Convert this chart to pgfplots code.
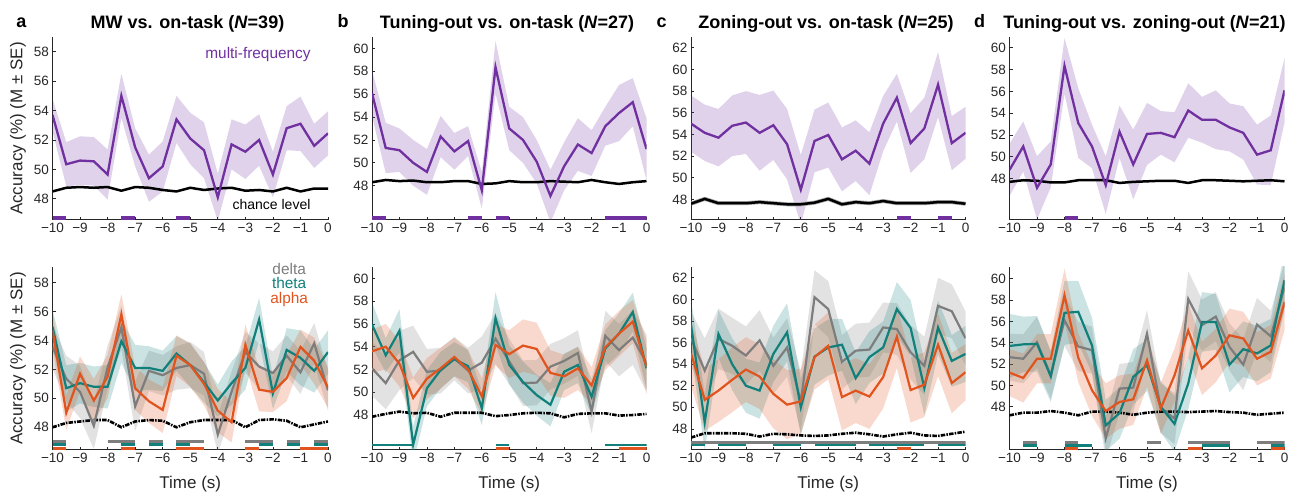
\documentclass[border=0pt]{standalone}
\usepackage{fontspec}
\setmainfont{Liberation Sans}
\usepackage{pgfplots}
\usepackage{pgfplotstable}
\usepgfplotslibrary{fillbetween}
\pgfplotsset{compat=1.18}

\definecolor{mwp}{RGB}{112,48,160}
\definecolor{tl}{RGB}{17,128,123}
\definecolor{orn}{RGB}{226,84,30}
\definecolor{gr}{RGB}{125,125,125}
\definecolor{axc}{RGB}{38,38,38}

% top row: t, mean, se, chance
\pgfplotstableread{
t m s c
-10 53.7 1.1 48.5
-9.5 50.35 1.5 48.75
-9 50.6 1.65 48.8
-8.5 50.55 1.65 48.75
-8 49.65 1.7 48.8
-7.5 55.0 1.5 48.55
-7 51.5 1.3 48.8
-6.5 49.4 1.6 48.75
-6 50.2 1.7 48.6
-5.5 53.4 1.6 48.5
-5 52.1 1.75 48.75
-4.5 51.3 1.9 48.6
-4 48.1 1.6 48.7
-3.5 51.7 1.7 48.75
-3 51.2 1.85 48.55
-2.5 52.0 1.75 48.6
-2 49.65 1.55 48.5
-1.5 52.8 1.5 48.75
-1 53.1 1.85 48.5
-0.5 51.6 1.5 48.7
0 52.45 1.5 48.7
}\tA
\pgfplotstableread{
t m s c
-10 56.1 2.0 48.3
-9.5 51.3 2.2 48.5
-9 51.1 1.9 48.4
-8.5 50.0 2.0 48.45
-8 49.2 2.0 48.3
-7.5 52.3 1.8 48.3
-7 51.0 1.6 48.4
-6.5 51.9 1.3 48.4
-6 47.6 1.6 48.15
-5.5 58.35 2.3 48.2
-5 53.0 1.9 48.4
-4.5 52.0 2.0 48.3
-4 50.1 1.9 48.3
-3.5 47.1 2.3 48.4
-3 49.7 2.1 48.35
-2.5 51.6 2.3 48.3
-2 50.85 2.0 48.5
-1.5 53.2 1.7 48.3
-1 54.35 2.45 48.15
-0.5 55.3 2.1 48.3
0 51.2 2.7 48.4
}\tB
\pgfplotstableread{
t m s c
-10 55.0 2.6 47.6
-9.5 54.15 2.6 48.05
-9 53.7 2.65 47.65
-8.5 54.8 2.8 47.65
-8 55.1 2.9 47.65
-7.5 54.15 3.5 47.75
-7 54.85 3.2 47.65
-6.5 53.1 3.25 47.55
-6 48.9 3.2 47.55
-5.5 53.4 2.9 47.7
-5 53.95 3.0 48.05
-4.5 51.7 2.95 47.55
-4 52.5 2.8 47.75
-3.5 51.3 2.9 47.65
-3 55.0 2.55 47.85
-2.5 57.4 2.2 47.65
-2 53.2 2.75 47.65
-1.5 54.55 2.85 47.65
-1 58.6 3.0 47.75
-0.5 53.2 2.5 47.75
0 54.15 2.4 47.6
}\tC
\pgfplotstableread{
t m s c
-10 48.8 2.4 47.7
-9.5 50.95 2.3 47.85
-9 47.15 2.9 47.8
-8.5 49.3 2.1 47.65
-8 58.35 2.55 47.65
-7.5 53.1 3.2 47.85
-7 50.95 2.0 47.85
-6.5 47.4 2.65 47.85
-6 52.3 2.4 47.6
-5.5 49.3 3.2 47.7
-5 52.1 2.85 47.75
-4.5 52.2 2.0 47.8
-4 51.8 2.3 47.8
-3.5 54.25 2.5 47.6
-3 53.4 2.1 47.85
-2.5 53.4 2.7 47.85
-2 52.7 2.2 47.8
-1.5 52.2 2.45 47.75
-1 50.2 2.75 47.8
-0.5 50.6 3.2 47.85
0 56.1 2.95 47.75
}\tD
% bottom row: t, delta, se, theta, se, alpha, se, chance
\pgfplotstableread{
t d ds h hs a as c
-10 53.55 1.5 54.95 1.2 54.7 1.3 48.0
-9.5 51.35 1.6 50.7 1.6 49.0 1.2 48.3
-9 50.45 1.8 51.05 1.4 51.7 1.2 48.4
-8.5 48.1 1.6 50.8 1.4 49.85 1.5 48.5
-8 52.15 1.5 50.8 1.5 51.5 1.5 48.5
-7.5 54.9 1.5 53.95 1.5 55.8 1.4 48.0
-7 49.45 1.7 52.1 1.6 50.7 1.5 48.4
-6.5 51.9 1.4 52.1 1.5 49.8 1.5 48.5
-6 51.6 1.4 51.9 1.4 49.2 1.6 48.45
-5.5 52.1 1.5 53.1 1.2 52.95 1.4 48.0
-5 52.3 1.6 52.3 1.5 52.3 1.5 48.35
-4.5 51.7 1.5 51.1 1.4 51.0 1.5 48.5
-4 47.5 1.3 49.85 1.1 49.15 1.5 48.5
-3.5 50.45 1.4 51.05 1.5 48.35 1.4 48.5
-3 53.2 1.4 52.1 1.5 53.7 1.4 48.0
-2.5 52.2 1.6 55.45 1.5 50.6 1.5 48.5
-2 51.75 1.5 50.35 1.1 50.45 1.4 48.55
-1.5 52.95 1.4 53.35 1.5 51.4 1.6 48.45
-1 51.8 1.5 52.8 1.9 53.55 1.2 48.0
-0.5 53.8 1.4 51.9 1.5 52.6 1.6 48.2
0 50.55 1.4 53.2 1.5 50.75 1.4 48.4
}\tE
\pgfplotstableread{
t d ds h hs a as c
-10 52.1 2.4 55.95 1.95 53.6 1.9 47.85
-9.5 50.8 2.3 53.25 1.5 54.0 2.0 48.1
-9 52.8 2.6 55.4 1.9 52.5 2.0 48.3
-8.5 53.55 2.3 45.4 1.6 49.5 1.8 48.15
-8 51.8 2.0 50.35 1.6 51.2 1.8 48.2
-7.5 51.9 2.0 51.95 1.6 52.1 1.8 47.85
-7 52.95 1.9 52.9 1.5 53.1 1.7 48.2
-6.5 51.9 2.0 52.3 1.4 52.0 1.7 48.2
-6 52.6 2.3 48.6 1.5 49.65 1.6 48.2
-5.5 54.7 2.2 56.5 2.3 54.15 1.8 47.9
-5 52.7 2.0 52.4 1.7 53.35 2.1 48.0
-4.5 50.8 2.0 50.9 1.8 54.1 2.3 48.15
-4 50.85 2.0 49.75 1.8 53.8 2.3 48.2
-3.5 52.25 2.0 48.9 1.9 51.7 2.0 48.15
-3 52.75 2.0 51.8 1.6 51.4 1.9 47.8
-2.5 53.45 2.0 52.4 1.6 52.1 1.9 48.1
-2 48.3 1.9 49.6 1.6 50.6 1.6 48.15
-1.5 54.95 2.2 53.85 1.6 53.95 2.0 48.15
-1 53.7 2.3 55.15 1.8 55.15 2.0 47.95
-0.5 54.8 2.4 57.05 1.7 56.2 1.9 48.0
0 52.55 2.5 52.1 1.8 52.25 2.4 48.1
}\tF
\pgfplotstableread{
t d ds h hs a as c
-10 56.4 2.5 57.65 2.4 55.0 3.0 47.2
-9.5 53.4 3.0 48.6 2.6 50.7 2.9 47.6
-9 56.35 2.8 56.8 2.2 51.55 2.9 47.6
-8.5 55.7 2.6 54.0 2.4 52.55 3.0 47.6
-8 54.8 2.7 52.0 2.5 53.5 3.0 47.55
-7.5 56.2 2.8 51.55 2.6 52.85 3.0 47.3
-7 53.85 2.6 54.95 2.6 51.25 3.2 47.55
-6.5 55.55 2.7 56.95 2.7 50.25 3.2 47.5
-6 50.5 2.8 50.0 2.6 50.55 3.0 47.4
-5.5 60.2 2.5 54.7 2.6 54.65 3.0 47.35
-5 59.1 2.6 55.55 2.6 55.7 3.1 47.4
-4.5 54.2 2.5 55.8 2.4 50.95 3.1 47.55
-4 55.25 2.5 52.7 2.4 51.55 3.0 47.65
-3.5 55.35 2.5 54.65 2.4 51.0 3.0 47.5
-3 57.4 2.3 55.55 2.4 52.8 2.9 47.3
-2.5 57.25 2.4 59.1 2.5 56.55 2.9 47.5
-2 55.1 2.5 57.35 2.6 51.6 3.0 47.65
-1.5 53.85 2.7 51.8 2.5 52.1 3.0 47.4
-1 59.4 2.6 57.4 2.5 55.8 2.9 47.35
-0.5 58.9 2.5 54.3 2.4 52.25 2.8 47.55
0 56.4 2.5 54.95 2.6 53.25 2.6 47.75
}\tG
\pgfplotstableread{
t d ds h hs a as c
-10 52.65 2.2 53.7 3.0 51.2 2.2 47.2
-9.5 52.5 2.3 53.85 2.6 50.7 2.3 47.45
-9 54.05 2.4 53.9 2.6 52.5 2.3 47.45
-8.5 50.95 2.2 50.85 2.4 52.5 2.3 47.6
-8 56.1 2.4 56.8 3.0 58.45 2.5 47.45
-7.5 53.65 2.3 56.9 2.9 52.6 2.3 47.2
-7 53.3 2.2 53.75 2.6 49.55 2.4 47.55
-6.5 45.05 2.0 46.25 2.4 47.6 2.6 47.55
-6 49.7 2.3 47.4 2.4 48.45 2.5 47.45
-5.5 49.8 2.4 50.8 2.6 48.7 2.4 47.25
-5 54.85 2.2 51.9 2.4 52.35 2.5 47.45
-4.5 47.85 2.3 48.0 2.4 47.85 2.4 47.55
-4 46.9 2.4 46.4 2.6 50.95 2.5 47.55
-3.5 58.1 2.6 50.2 2.4 55.15 2.5 47.5
-3 55.65 2.4 55.95 2.8 51.6 2.5 47.55
-2.5 56.45 2.3 55.95 2.6 52.8 2.5 47.6
-2 53.6 2.2 51.95 2.6 54.7 2.5 47.5
-1.5 51.95 2.4 53.4 2.6 54.4 2.5 47.45
-1 55.7 2.5 53.0 2.6 52.5 2.5 47.25
-0.5 54.6 2.4 53.75 2.5 53.15 2.5 47.35
0 59.2 2.3 59.85 2.6 57.8 2.6 47.45
}\tH

\newcommand{\band}[5]{%
\addplot[name path=#5u, draw=none, forget plot] table[x=t, y expr=\thisrow{#2}+\thisrow{#3}] {#1};
\addplot[name path=#5l, draw=none, forget plot] table[x=t, y expr=\thisrow{#2}-\thisrow{#3}] {#1};
\addplot[fill=#4, fill opacity=0.22, draw=none, forget plot] fill between[of=#5u and #5l];
}
\newcommand{\bottomlines}[1]{%
\addplot[black, line width=2.6pt, dash pattern=on 4.5pt off 1.2pt on 1.5pt off 1.2pt] table[x=t,y=c]{#1};
\addplot[gr, line width=2.2pt] table[x=t,y=d]{#1};
\addplot[tl, line width=2.2pt] table[x=t,y=h]{#1};
\addplot[orn, line width=2.2pt] table[x=t,y=a]{#1};
}

\pgfplotsset{
 panel/.style={scale only axis, anchor=south west,
  axis lines=left, axis line style={-, line width=1pt, color=axc},
  xmin=-10, xmax=0, xtick={-10,...,0},
  xticklabels={−10,−9,−8,−7,−6,−5,−4,−3,−2,−1,0},
  tick align=inside, major tick length=3pt,
  tick style={line width=0.8pt, color=axc},
  tick label style={font=\fontsize{13.5}{15}\selectfont, color=axc},
  /pgf/number format/assume math mode=true,
  unbounded coords=jump, clip=true, clip mode=individual,
  ylabel style={font=\fontsize{17}{19}\selectfont, color=axc, at={(axis description cs:-0.125,0.5)}, anchor=center},
  xlabel style={font=\fontsize{17}{19}\selectfont, color=axc, at={(axis description cs:0.5,-0.186)}, anchor=center},
 },
}

\begin{document}
\begin{tikzpicture}
\path (0pt,0pt) rectangle (1302pt,497pt);

% ---------- top a
\begin{axis}[panel, at={(52.5pt,277pt)}, width=275.5pt, height=183pt,
  ymin=46.56, ymax=59, ytick={48,50,...,58}, ylabel={Accuracy (\%) (M ± SE)}]
\band{\tA}{m}{s}{mwp}{pa}
\addplot[black, line width=2.5pt] table[x=t,y=c]{\tA};
\addplot[mwp, line width=2.3pt] table[x=t,y=m]{\tA};
\addplot[mwp, line width=3.5pt] coordinates {(-10,46.70) (-9.5,46.70) (-9.5,nan) (-7.5,46.70) (-7,46.70) (-7,nan) (-5.5,46.70) (-5,46.70)};
\node[mwp, font=\fontsize{15.4}{17}\selectfont, anchor=base] at (axis cs:-2.54,57.57) {multi-frequency};
\node[black, font=\fontsize{14}{16}\selectfont, anchor=base] at (axis cs:-2.05,47.3) {chance level};
\end{axis}

% ---------- top b
\begin{axis}[panel, at={(372pt,277pt)}, width=274.5pt, height=183pt,
  ymin=45.0, ymax=61, ytick={48,50,...,60}]
\band{\tB}{m}{s}{mwp}{pb}
\addplot[black, line width=2.5pt] table[x=t,y=c]{\tB};
\addplot[mwp, line width=2.3pt] table[x=t,y=m]{\tB};
\addplot[mwp, line width=3.5pt] coordinates {(-10,45.17) (-9.5,45.17) (-9.5,nan) (-6.5,45.17) (-6,45.17) (-6,nan) (-5.5,45.17) (-5,45.17) (-5,nan) (-1.5,45.17) (0,45.17)};
\end{axis}

% ---------- top c
\begin{axis}[panel, at={(691pt,277pt)}, width=274.5pt, height=183pt,
  ymin=46.1, ymax=63, ytick={48,50,...,62}]
\band{\tC}{m}{s}{mwp}{pc}
\addplot[black!35, line width=4pt] table[x=t,y=c]{\tC};
\addplot[black, line width=2.5pt] table[x=t,y=c]{\tC};
\addplot[mwp, line width=2.3pt] table[x=t,y=m]{\tC};
\addplot[mwp, line width=3.5pt] coordinates {(-2.5,46.28) (-2,46.28) (-2,nan) (-1,46.28) (-0.5,46.28)};
\end{axis}

% ---------- top d
\begin{axis}[panel, at={(1009.5pt,277pt)}, width=275pt, height=183pt,
  ymin=44.2, ymax=61, ytick={48,50,...,60}]
\band{\tD}{m}{s}{mwp}{pd}
\addplot[black, line width=2.5pt] table[x=t,y=c]{\tD};
\addplot[mwp, line width=2.3pt] table[x=t,y=m]{\tD};
\addplot[mwp, line width=3.5pt] coordinates {(-8,44.38) (-7.5,44.38)};
\end{axis}

% ---------- bottom a
\begin{axis}[panel, at={(52.5pt,47pt)}, width=275.5pt, height=183pt,
  ymin=46.43, ymax=59.08, ytick={48,50,...,58},
  ylabel={Accuracy (\%) (M ± SE)}, xlabel={Time (s)}]
\band{\tE}{d}{ds}{gr}{ea}
\band{\tE}{h}{hs}{tl}{eb}
\band{\tE}{a}{as}{orn}{ec}
\bottomlines{\tE}
\addplot[gr, line width=2.8pt] coordinates {(-10,47.03) (-9.5,47.03) (-9.5,nan) (-8,47.03) (-7,47.03) (-7,nan) (-6.5,47.03) (-6,47.03) (-6,nan) (-5.5,47.03) (-4.5,47.03) (-4.5,nan) (-3,47.03) (-2,47.03) (-2,nan) (-1.5,47.03) (-1,47.03) (-1,nan) (-0.5,47.03) (0,47.03)};
\addplot[tl, line width=2.8pt] coordinates {(-10,46.79) (-9.5,46.79) (-9.5,nan) (-7.5,46.79) (-7,46.79) (-7,nan) (-6.5,46.79) (-6,46.79) (-6,nan) (-5.5,46.79) (-5,46.79) (-5,nan) (-2.5,46.79) (-2,46.79) (-2,nan) (-1.5,46.79) (-1,46.79) (-1,nan) (-0.5,46.79) (0,46.79)};
\addplot[orn, line width=3pt] coordinates {(-10,46.55) (-9.5,46.55) (-9.5,nan) (-7.5,46.55) (-7,46.55) (-7,nan) (-5.5,46.55) (-4.5,46.55) (-4.5,nan) (-3,46.55) (-2.5,46.55) (-2.5,nan) (-1,46.55) (0,46.55)};
\node[gr, font=\fontsize{15.4}{17}\selectfont, anchor=base] at (axis cs:-1.41,58.58) {delta};
\node[tl, font=\fontsize{15.4}{17}\selectfont, anchor=base] at (axis cs:-1.41,57.58) {theta};
\node[orn, font=\fontsize{15.4}{17}\selectfont, anchor=base] at (axis cs:-1.41,56.54) {alpha};
\end{axis}

% ---------- bottom b
\begin{axis}[panel, at={(372pt,47pt)}, width=274.5pt, height=183pt,
  ymin=44.93, ymax=61, ytick={48,50,...,60}, xlabel={Time (s)}]
\band{\tF}{d}{ds}{gr}{fa}
\band{\tF}{h}{hs}{tl}{fb}
\band{\tF}{a}{as}{orn}{fc}
\bottomlines{\tF}
\addplot[tl, line width=2.8pt] coordinates {(-10,45.37) (-8.5,45.37) (-8.5,nan) (-5.5,45.37) (-5,45.37) (-5,nan) (-1.5,45.37) (0,45.37)};
\addplot[orn, line width=3pt] coordinates {(-5.5,45.08) (-5,45.08) (-5,nan) (-1,45.08) (0,45.08)};
\end{axis}

% ---------- bottom c
\begin{axis}[panel, at={(691pt,47pt)}, width=274.5pt, height=183pt,
  ymin=46.05, ymax=63, ytick={48,50,...,62}, xlabel={Time (s)}]
\band{\tG}{d}{ds}{gr}{ga}
\band{\tG}{h}{hs}{tl}{gb}
\band{\tG}{a}{as}{orn}{gc}
\bottomlines{\tG}
\addplot[gr, line width=2.8pt] coordinates {(-10,46.76) (0,46.76)};
\addplot[tl, line width=2.8pt] coordinates {(-10,46.52) (-9.5,46.52) (-9.5,nan) (-9,46.52) (-8,46.52) (-8,nan) (-7,46.52) (-6,46.52) (-6,nan) (-5.5,46.52) (-4,46.52) (-4,nan) (-3.5,46.52) (-1.5,46.52) (-1.5,nan) (-1,46.52) (0,46.52)};
\addplot[orn, line width=3pt] coordinates {(-2.5,46.19) (-2,46.19)};
\end{axis}

% ---------- bottom d
\begin{axis}[panel, at={(1009.5pt,47pt)}, width=275pt, height=183pt,
  ymin=43.95, ymax=61.1, ytick={48,50,...,60}, xlabel={Time (s)}]
\band{\tH}{d}{ds}{gr}{ha}
\band{\tH}{h}{hs}{tl}{hb}
\band{\tH}{a}{as}{orn}{hc}
\bottomlines{\tH}
\addplot[gr, line width=2.8pt] coordinates {(-9.5,44.63) (-9,44.63) (-9,nan) (-8,44.63) (-7.5,44.63) (-7.5,nan) (-5,44.63) (-4.5,44.63) (-4.5,nan) (-3.5,44.63) (-2,44.63) (-2,nan) (-1,44.63) (0,44.63)};
\addplot[tl, line width=2.8pt] coordinates {(-9.5,44.36) (-9,44.36) (-9,nan) (-8,44.36) (-7,44.36) (-7,nan) (-3,44.36) (-2,44.36) (-2,nan) (-0.5,44.36) (0,44.36)};
\addplot[orn, line width=3pt] coordinates {(-8,44.11) (-7.5,44.11) (-7.5,nan) (-3.5,44.11) (-3,44.11) (-3,nan) (-0.5,44.11) (0,44.11)};
\end{axis}

% ---------- titles
\begin{scope}[every node/.style={font=\bfseries\fontsize{18}{20}\selectfont, anchor=base, text=black}]
\node at (21.5pt,469pt) {a};
\node at (187.5pt,468pt) {MW vs. on-task (\textit{N}=39)};
\node at (343pt,469pt) {b};
\node at (507pt,468pt) {Tuning-out vs. on-task (\textit{N}=27)};
\node at (661.5pt,469pt) {c};
\node at (826pt,468pt) {Zoning-out vs. on-task (\textit{N}=25)};
\node at (979.5pt,469pt) {d};
\node at (1144.5pt,468pt) {Tuning-out vs. zoning-out (\textit{N}=21)};
\end{scope}
\end{tikzpicture}
\end{document}
